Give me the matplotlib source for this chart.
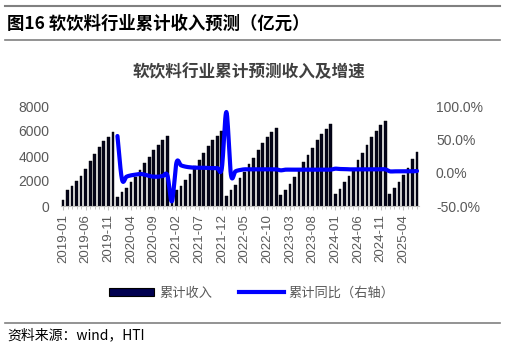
# -*- coding: utf-8 -*-

import numpy as np
import matplotlib
matplotlib.use('Agg')
import matplotlib.pyplot as plt
from matplotlib.patches import Patch
from matplotlib.lines import Line2D

plt.rcParams['font.family'] = ['Liberation Sans', 'Noto Sans CJK SC', 'DejaVu Sans']
cjk = ['Noto Sans CJK SC', 'DejaVu Sans']

# months 2019-01 .. 2025-07
months = []
for y in range(2019, 2026):
    for m in range(1, 13):
        if y == 2025 and m > 7:
            break
        months.append('%d-%02d' % (y, m))

# cumulative revenue (100m yuan), one list per year
rev_2019 = [490, 1250, 1580, 1970, 2400, 2950, 3580, 4200, 4730, 5190, 5550, 5960]
rev_2020 = [760, 1120, 1470, 1910, 2320, 2870, 3420, 3960, 4450, 4860, 5270, 5600]
rev_2021 = [440, 1290, 1640, 2120, 2560, 3180, 3690, 4240, 4780, 5250, 5630, 6000]
rev_2022 = [840, 1250, 1720, 2220, 2690, 3340, 3880, 4450, 5020, 5500, 5910, 6280]
rev_2023 = [880, 1310, 1800, 2320, 2810, 3490, 4050, 4650, 5250, 5750, 6180, 6560]
rev_2024 = [930, 1380, 1890, 2440, 2960, 3670, 4260, 4890, 5510, 6020, 6450, 6830]
rev_2025 = [950, 1410, 1930, 2490, 3010, 3740, 4320]
revenue = rev_2019 + rev_2020 + rev_2021 + rev_2022 + rev_2023 + rev_2024 + rev_2025

# cumulative yoy (%), starts 2020-01
yoy_2020 = [55, -10, -6, -4, -3, -2, -3, -5, -6, -6, -5, -4]
yoy_2021 = [-43, 15, 11, 9, 8, 7.5, 7.5, 7.5, 7, 7, 7, 7]
yoy_2022 = [91, -3, 2, 4, 5, 5, 5, 5, 5, 5, 5, 5]
yoy_2023 = [3.5, 4.5, 4.5, 4.5, 4.5, 4.5, 4.5, 4.5, 4.5, 4.5, 4.5, 4.5]
yoy_2024 = [6, 5.5, 5.5, 5, 5, 5, 5, 5, 5, 5, 5, 5]
yoy_2025 = [2, 2, 2, 2, 2, 2, 2.5]
yoy = yoy_2020 + yoy_2021 + yoy_2022 + yoy_2023 + yoy_2024 + yoy_2025


def smooth(x, y, n=12):
    # catmull-rom curve through the points, like a smoothed excel line
    x = np.asarray(x, float)
    y = np.asarray(y, float)
    px = np.concatenate([[2 * x[0] - x[1]], x, [2 * x[-1] - x[-2]]])
    py = np.concatenate([[2 * y[0] - y[1]], y, [2 * y[-1] - y[-2]]])
    xs, ys = [], []
    t = np.linspace(0, 1, n, endpoint=False)
    for i in range(1, len(px) - 2):
        for arr, out in ((px, xs), (py, ys)):
            p0, p1, p2, p3 = arr[i - 1], arr[i], arr[i + 1], arr[i + 2]
            out.extend(0.5 * (2 * p1 + (-p0 + p2) * t + (2 * p0 - 5 * p1 + 4 * p2 - p3) * t ** 2
                              + (-p0 + 3 * p1 - 3 * p2 + p3) * t ** 3))
    xs.append(x[-1])
    ys.append(y[-1])
    return np.array(xs), np.array(ys)


W, H = 506, 347
fig = plt.figure(figsize=(W / 100, H / 100), dpi=100)
ax = fig.add_axes([60.7 / W, 1 - 206 / H, (419.3 - 60.7) / W, 100 / H])

x = np.arange(len(revenue))
ax.bar(x, revenue, width=0.6, color='#05051a', edgecolor='#000000', linewidth=0.3, zorder=2)
ax.set_xlim(-0.5, len(revenue) - 0.5)
ax.set_ylim(0, 8000)
ax.set_yticks([0, 2000, 4000, 6000, 8000])
ax.set_xticks(x, minor=True)
ax.set_xticks(x[::5])
ax.set_xticklabels([months[i] for i in x[::5]], rotation=90)
ax.tick_params(axis='y', length=0, labelsize=10, labelcolor='#595959', pad=8)
ax.tick_params(axis='x', which='major', length=3, color='#bfbfbf', labelsize=9.5,
               labelcolor='#595959', pad=3)
ax.tick_params(axis='x', which='minor', length=2, color='#bfbfbf')
for s in ['top', 'left', 'right']:
    ax.spines[s].set_visible(False)
ax.spines['bottom'].set_color('#bfbfbf')

ax2 = ax.twinx()
lx, ly = smooth(x[12:], yoy)
ax2.plot(lx, ly, color='#0000ff', lw=3, solid_capstyle='round', zorder=3)
ax2.set_ylim(-50, 100)
ax2.set_yticks([-50, 0, 50, 100])
ax2.set_yticklabels(['%.1f%%' % v for v in [-50, 0, 50, 100]])
ax2.tick_params(axis='y', length=0, labelsize=10, labelcolor='#595959', pad=12)
for s in ['top', 'left', 'right', 'bottom']:
    ax2.spines[s].set_visible(False)

# header and rules
fig.add_artist(Line2D([5 / W, 500 / W], [1 - 6 / H, 1 - 6 / H], color='#808080', lw=1.5))
fig.add_artist(Line2D([5 / W, 500 / W], [1 - 40 / H, 1 - 40 / H], color='#808080', lw=1.2))
fig.add_artist(Line2D([5 / W, 500 / W], [1 - 323 / H, 1 - 323 / H], color='#808080', lw=1.2))
fig.text(7 / W, 1 - 24 / H, '图16 软饮料行业累计收入预测（亿元）', family=cjk, fontsize=12.5,
         fontweight='bold', va='center', ha='left', color='#000000')
fig.text(249 / W, 1 - 72 / H, '软饮料行业累计预测收入及增速', family=cjk, fontsize=12,
         fontweight='bold', va='center', ha='center', color='#404040')
fig.text(7 / W, 1 - 335 / H, '资料来源：wind，HTI', family=cjk, fontsize=10,
         va='center', ha='left', color='#000000')

handles = [Patch(facecolor='#000050', edgecolor='#000000', linewidth=0.8),
           Line2D([], [], color='#0000ff', lw=3)]
fig.legend(handles, ['累计收入', '累计同比（右轴）'], loc='center', ncol=2,
           bbox_to_anchor=(252 / W, 1 - 293 / H), frameon=False, handlelength=3.4,
           handleheight=0.5, columnspacing=2.0, handletextpad=0.4,
           prop={'family': cjk, 'size': 9.5}, labelcolor='#595959')

plt.savefig('out.png', dpi=100)
